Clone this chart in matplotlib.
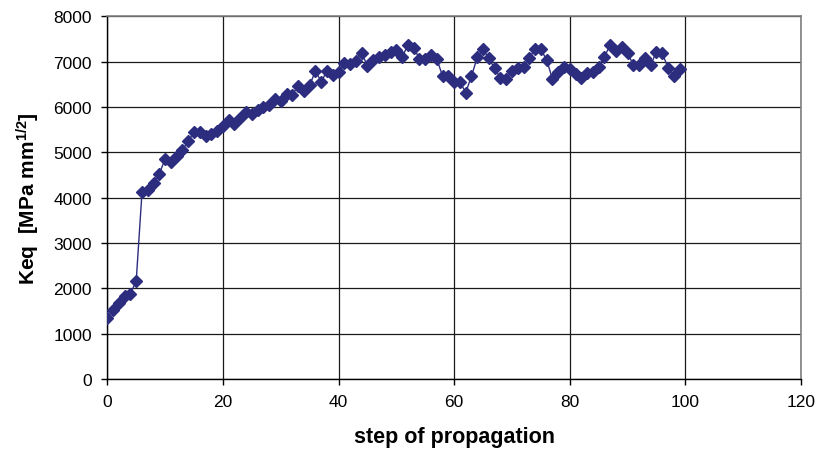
import matplotlib
matplotlib.use("Agg")
import matplotlib.pyplot as plt

plt.rcParams['font.family'] = ['Liberation Sans', 'DejaVu Sans']
plt.rcParams['mathtext.fontset'] = 'custom'
plt.rcParams['mathtext.rm'] = 'Liberation Sans:bold'
plt.rcParams['mathtext.bf'] = 'Liberation Sans:bold'
plt.rcParams['mathtext.default'] = 'bf'

# equivalent stress intensity per propagation step
steps = list(range(100))
keq = [
    1346, 1522, 1684, 1838, 1875, 2169, 4118, 4169, 4324, 4529,
    4853, 4779, 4912, 5051, 5250, 5441, 5456, 5368, 5412, 5463,
    5574, 5706, 5632, 5757, 5882, 5838, 5941, 6000, 6051, 6176,
    6132, 6279, 6272, 6463, 6360, 6478, 6794, 6559, 6794, 6706,
    6775, 6975, 6941, 7015, 7185, 6911, 7037, 7096, 7148, 7222,
    7252, 7096, 7370, 7311, 7059, 7059, 7148, 7059, 6681, 6681,
    6541, 6556, 6319, 6681, 7096, 7274, 7074, 6852, 6644, 6625,
    6800, 6862, 6885, 7089, 7274, 7274, 7037, 6622, 6778, 6889,
    6837, 6719, 6644, 6741, 6778, 6889, 7111, 7370, 7244, 7333,
    7193, 6926, 6926, 7089, 6926, 7222, 7185, 6867, 6674, 6837,
]

xticks = [0, 20, 40, 60, 80, 100, 120]
yticks = [0, 1000, 2000, 3000, 4000, 5000, 6000, 7000, 8000]

navy = '#2d2d80'

fig = plt.figure(figsize=(8.18, 4.56), dpi=100)
ax = fig.add_axes([0.1312, 0.1667, 0.848, 0.7953])

ax.plot(steps, keq, color=navy, linewidth=1.0, marker='D',
        markersize=5.8, markerfacecolor=navy, markeredgecolor=navy, zorder=3)

ax.set_xlim(0, 120)
ax.set_ylim(0, 8000)
ax.set_xticks(xticks)
ax.set_yticks(yticks)
ax.grid(True, color='#1a1a1a', linewidth=0.9)
ax.set_axisbelow(True)

for side in ('top', 'right'):
    ax.spines[side].set_color('#808080')
    ax.spines[side].set_linewidth(1.2)
for side in ('left', 'bottom'):
    ax.spines[side].set_color('black')
    ax.spines[side].set_linewidth(1.0)

ax.tick_params(direction='out', length=4, width=1, labelsize=12.5, pad=7)

ax.set_xlabel('step of propagation', fontsize=15.5, fontweight='bold', labelpad=12)
ax.set_ylabel('Keq  [MPa mm$^{1/2}$]', fontsize=15, fontweight='bold', labelpad=8)

fig.savefig('out.png', dpi=100)
